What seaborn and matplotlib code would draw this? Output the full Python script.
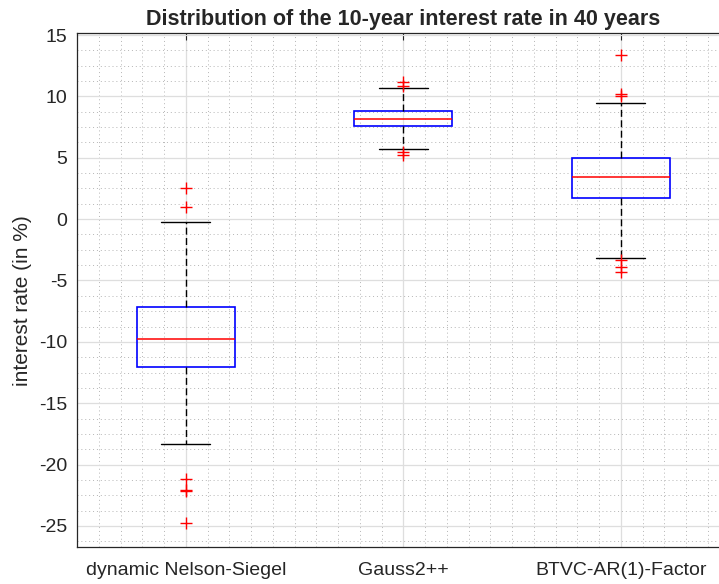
import pandas as pd
import numpy as np
import matplotlib.pyplot as plt
import seaborn as sns
from matplotlib.ticker import MultipleLocator

# model names on the x axis
labels = ["dynamic Nelson-Siegel", "Gauss2++", "BTVC-AR(1)-Factor"]

# simulated 10-year rates (in %) read off the boxes, whiskers and outliers
dns_values = [-24.78, -22.15, -22.08, -21.14, -18.31, -12.02, -11.3, -10.8, -10.3, -10.0,
              -9.74, -9.2, -8.6, -8.0, -7.5, -7.15, -5.0, -2.5, -0.22, 1.0, 2.56]
gauss_values = [5.2, 5.5, 5.75, 6.5, 7.2, 7.6, 7.7, 7.85, 7.95, 8.05,
                8.14, 8.3, 8.45, 8.6, 8.75, 8.85, 9.4, 10.0, 10.7, 10.86, 11.2]
btvc_values = [-4.27, -3.94, -3.29, -3.13, 0.0, 1.72, 2.1, 2.6, 2.9, 3.2,
               3.46, 3.8, 4.2, 4.5, 4.8, 5.01, 7.0, 9.44, 10.04, 10.18, 13.4]

df = pd.concat([
    pd.DataFrame({"model": labels[0], "rate": dns_values}),
    pd.DataFrame({"model": labels[1], "rate": gauss_values}),
    pd.DataFrame({"model": labels[2], "rate": btvc_values}),
], ignore_index=True)

sns.set_style("white")
plt.rcParams["font.family"] = ["Liberation Sans", "DejaVu Sans"]
plt.rcParams["axes.unicode_minus"] = False

fig = plt.figure(figsize=(7.19, 5.84), dpi=100)
ax = fig.add_axes([77 / 719, 37.3 / 584, 652.5 / 719, 513.4 / 584])

sns.boxplot(
    data=df, x="model", y="rate", order=labels, ax=ax,
    width=0.45, whis=1.5, fill=True, linecolor="black", linewidth=1,
    boxprops=dict(facecolor="none", edgecolor="blue", linewidth=1.2),
    medianprops=dict(color="red", linewidth=1.1),
    whiskerprops=dict(color="black", linestyle=(0, (5, 2.5)), linewidth=1),
    capprops=dict(color="black", linewidth=1),
    flierprops=dict(marker="+", markeredgecolor="red", markersize=9, markeredgewidth=1),
)

ax.set_xlim(-0.5, 2.5)
ax.set_ylim(-26.69, 15.14)
ax.set_yticks([-25, -20, -15, -10, -5, 0, 5, 10, 15])
ax.yaxis.set_minor_locator(MultipleLocator(1.25))
ax.xaxis.set_minor_locator(MultipleLocator(0.1))

ax.grid(True, which="major", color="#dedede", linewidth=0.9, linestyle="-")
ax.grid(True, which="minor", color="#b5b5b5", linewidth=0.7, linestyle=(0, (1, 3)))
ax.set_axisbelow(True)

ax.tick_params(which="major", direction="in", length=5, width=0.8, top=True, right=True,
               labelsize=14, colors="#262626")
ax.tick_params(axis="x", which="major", pad=11)
ax.tick_params(axis="y", which="major", pad=7)
ax.tick_params(which="minor", length=0)
for s in ax.spines.values():
    s.set_color("#262626")
    s.set_linewidth(0.9)
    s.set_visible(True)

ax.set_xlabel("")
ax.set_ylabel("interest rate (in %)", fontsize=15, color="#262626")
ax.yaxis.set_label_coords(-0.069, 0.48)
ax.set_title("Distribution of the 10-year interest rate in 40 years",
             fontsize=15.5, fontweight="bold", pad=6)

fig.savefig("out.png", dpi=100)
